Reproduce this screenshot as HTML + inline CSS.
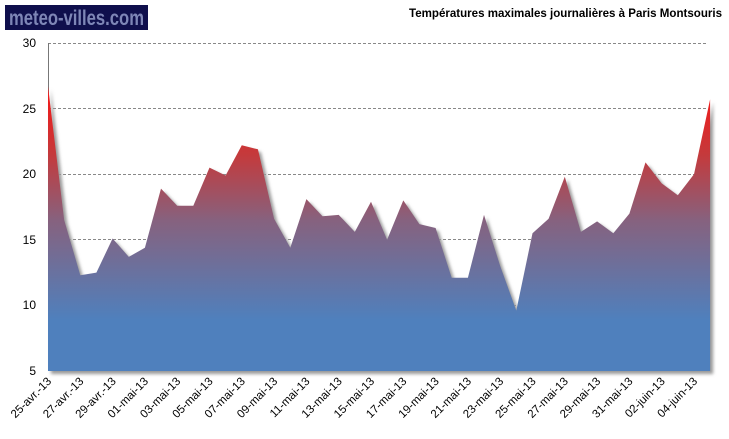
<!DOCTYPE html>
<html><head><meta charset="utf-8"><style>
body{margin:0;background:#fff;width:729px;height:434px;overflow:hidden}
</style></head><body>
<svg width="729" height="434" viewBox="0 0 729 434" xmlns="http://www.w3.org/2000/svg" font-family="Liberation Sans, sans-serif">
<defs>
<linearGradient id="g" gradientUnits="userSpaceOnUse" x1="0" y1="100" x2="0" y2="320">
<stop offset="0" stop-color="#ee1c1c"/>
<stop offset="0.25" stop-color="#c43a3c"/>
<stop offset="0.55" stop-color="#86627f"/>
<stop offset="1" stop-color="#4f80bd"/>
</linearGradient>
<filter id="sh" x="-5%" y="-5%" width="110%" height="110%"><feGaussianBlur stdDeviation="1.5"/></filter>
</defs>
<rect x="5" y="5" width="143" height="25" fill="#0f0f4c"/>
<text x="9" y="25" font-size="21" font-weight="bold" fill="#7e86b6" textLength="135" lengthAdjust="spacingAndGlyphs">meteo-villes.com</text>
<text x="722" y="17" font-size="12" font-weight="bold" text-anchor="end" fill="#000" textLength="313" lengthAdjust="spacingAndGlyphs">Températures maximales journalières à Paris Montsouris</text>
<g stroke="#888" stroke-dasharray="3,2" stroke-width="1">
<line x1="48" y1="43.5" x2="708" y2="43.5"/>
<line x1="48" y1="108.5" x2="708" y2="108.5"/>
<line x1="48" y1="174.5" x2="708" y2="174.5"/>
<line x1="48" y1="239.5" x2="708" y2="239.5"/>
<line x1="48" y1="305.5" x2="708" y2="305.5"/>
</g>
<g font-size="12" fill="#000" text-anchor="end">
<text x="36" y="47">30</text><text x="36" y="113">25</text><text x="36" y="178">20</text><text x="36" y="244">15</text><text x="36" y="309">10</text><text x="36" y="375">5</text>
</g>
<line x1="48.5" y1="43" x2="48.5" y2="371" stroke="#777"/>
<g id="area"></g>
<g id="lbl" font-size="11.5" fill="#000"></g>
</svg>
<script>
var v=[26.7,16.5,12.3,12.5,15.1,13.7,14.4,18.9,17.6,17.6,20.5,19.9,22.2,21.9,16.6,14.4,18.1,16.8,16.9,15.6,17.9,15.0,18.0,16.2,15.9,12.1,12.1,16.9,13.0,9.6,15.5,16.6,19.8,15.6,16.4,15.5,17.0,20.9,19.3,18.4,20.0,25.7];
var X=function(i){return 48+i*16.15},Y=function(t){return 371-(t-5)*13.12};
var pts=v.map(function(t,i){return X(i).toFixed(1)+","+Y(t).toFixed(1)}).join(" ");
var poly="48,371 "+pts+" "+X(41).toFixed(1)+",371";
var ns="http://www.w3.org/2000/svg",a=document.getElementById("area");
var s=document.createElementNS(ns,"polygon");s.setAttribute("points",poly);s.setAttribute("fill","#999");s.setAttribute("filter","url(#sh)");s.setAttribute("transform","translate(3,3)");a.appendChild(s);
var p=document.createElementNS(ns,"polygon");p.setAttribute("points",poly);p.setAttribute("fill","url(#g)");a.appendChild(p);
var L=["25-avr.-13","27-avr.-13","29-avr.-13","01-mai-13","03-mai-13","05-mai-13","07-mai-13","09-mai-13","11-mai-13","13-mai-13","15-mai-13","17-mai-13","19-mai-13","21-mai-13","23-mai-13","25-mai-13","27-mai-13","29-mai-13","31-mai-13","02-juin-13","04-juin-13"];
var g=document.getElementById("lbl");
L.forEach(function(t,k){var x=X(2*k)+4,y=382;var e=document.createElementNS(ns,"text");e.setAttribute("x",x);e.setAttribute("y",y);e.setAttribute("text-anchor","end");e.setAttribute("transform","rotate(-45 "+x+" "+y+")");e.textContent=t;g.appendChild(e);});
</script>
</body></html>
